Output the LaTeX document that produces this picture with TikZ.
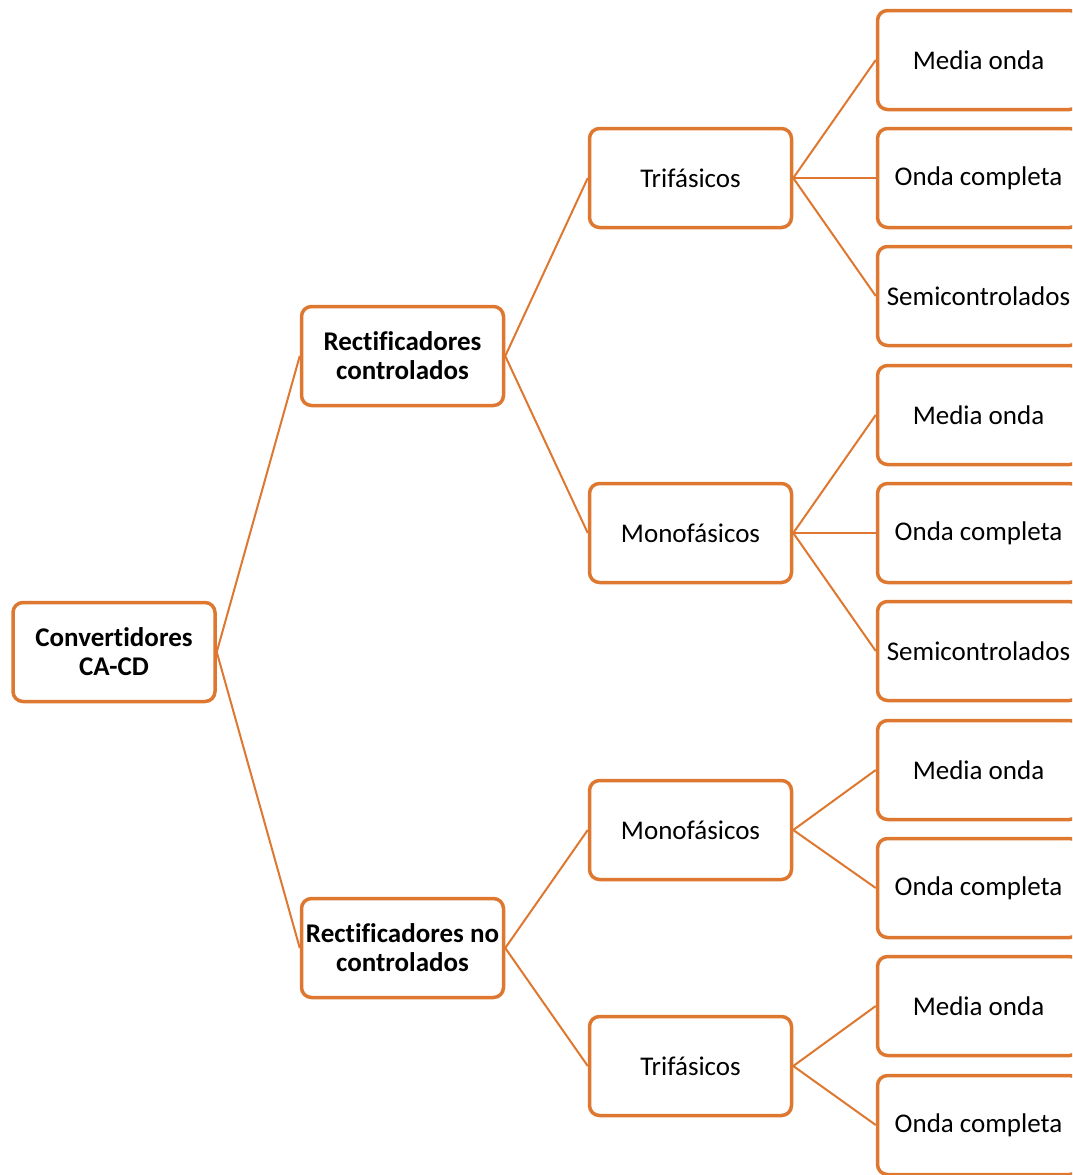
\documentclass[tikz,border=0pt]{standalone}
\usepackage{fontspec}
\setmainfont[Ligatures={NoCommon}]{Carlito}
\definecolor{acc}{RGB}{222,120,48}
\begin{document}
\begin{tikzpicture}[x=1pt,y=-1pt,
  box/.style={draw=acc, line width=3.5pt, rounded corners=10pt, fill=white,
    minimum width=202pt, minimum height=99pt, inner sep=0pt, align=center,
    font=\fontsize{27}{29}\selectfont},
  bbox/.style={box, font=\fontsize{27}{29}\selectfont\bfseries},
  link/.style={draw=acc, line width=2pt}]
\clip (0,0) rectangle (1072,1175);
\fill[white] (0,0) rectangle (1072,1175);
% level 0
\node[bbox] (root) at (114,652) {Convertidores\\CA-CD};
% level 1
\node[bbox] (rc) at (402.5,356) {Rectificadores\\controlados};
\node[bbox] (rnc) at (402.5,948) {Rectificadores no\\controlados};
% level 2
\node[box] (t1) at (690.5,178) {Trifásicos};
\node[box] (m1) at (690.5,533) {Monofásicos};
\node[box] (m2) at (690.5,830) {Monofásicos};
\node[box] (t2) at (690.5,1066) {Trifásicos};
% level 3
\node[box] (a1) at (978.5,60) {Media onda};
\node[box] (a2) at (978.5,178) {Onda completa};
\node[box] (a3) at (978.5,296) {Semicontrolados};
\node[box] (b1) at (978.5,415) {Media onda};
\node[box] (b2) at (978.5,533) {Onda completa};
\node[box] (b3) at (978.5,651) {Semicontrolados};
\node[box] (c1) at (978.5,770) {Media onda};
\node[box] (c2) at (978.5,888) {Onda completa};
\node[box] (d1) at (978.5,1006) {Media onda};
\node[box] (d2) at (978.5,1125) {Onda completa};
% connectors
\draw[link] (root.east) -- (rc.west);
\draw[link] (root.east) -- (rnc.west);
\draw[link] (rc.east) -- (t1.west);
\draw[link] (rc.east) -- (m1.west);
\draw[link] (rnc.east) -- (m2.west);
\draw[link] (rnc.east) -- (t2.west);
\draw[link] (t1.east) -- (a1.west);
\draw[link] (t1.east) -- (a2.west);
\draw[link] (t1.east) -- (a3.west);
\draw[link] (m1.east) -- (b1.west);
\draw[link] (m1.east) -- (b2.west);
\draw[link] (m1.east) -- (b3.west);
\draw[link] (m2.east) -- (c1.west);
\draw[link] (m2.east) -- (c2.west);
\draw[link] (t2.east) -- (d1.west);
\draw[link] (t2.east) -- (d2.west);
\end{tikzpicture}
\end{document}
